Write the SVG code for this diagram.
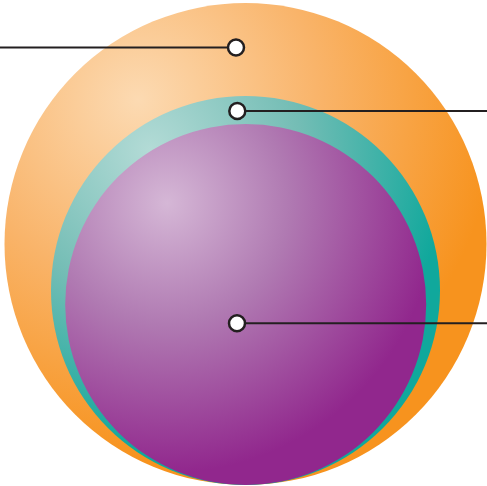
<svg xmlns="http://www.w3.org/2000/svg" width="487" height="486" viewBox="0 0 487 486">
<style>
.lead{stroke:#231f20;stroke-width:2;fill:none}
.dot{fill:#fff;stroke:#231f20;stroke-width:2.5}
</style>
<defs>
<radialGradient id="gO" gradientUnits="userSpaceOnUse" cx="138" cy="100" r="360">
<stop offset="0" stop-color="#fcdab2"/>
<stop offset="0.5" stop-color="#f9b46a"/>
<stop offset="1" stop-color="#f7931e"/>
</radialGradient>
<radialGradient id="gT" gradientUnits="userSpaceOnUse" cx="150" cy="150" r="300">
<stop offset="0" stop-color="#b3dbd6"/>
<stop offset="0.5" stop-color="#74bdb5"/>
<stop offset="1" stop-color="#10a89c"/>
</radialGradient>
<radialGradient id="gP" gradientUnits="userSpaceOnUse" cx="167" cy="203" r="270">
<stop offset="0" stop-color="#d5b7d6"/>
<stop offset="0.45" stop-color="#b07ab2"/>
<stop offset="1" stop-color="#91278d"/>
</radialGradient>
</defs>
<g id="outer"><circle cx="245.5" cy="244" r="241" fill="url(#gO)"/></g>
<g id="middle"><circle cx="245.5" cy="290.5" r="194.5" fill="url(#gT)"/></g>
<g id="inner"><circle cx="245.7" cy="304.5" r="180.5" fill="url(#gP)"/></g>
<g id="connectors">
<line class="lead" x1="0" y1="47.5" x2="228" y2="47.5"/>
<line class="lead" x1="245" y1="111" x2="487" y2="111"/>
<line class="lead" x1="245" y1="323.3" x2="487" y2="323.3"/>
</g>
<g id="marker1"><circle class="dot" cx="236" cy="47.5" r="8"/></g>
<g id="marker2"><circle class="dot" cx="237.3" cy="111" r="8"/></g>
<g id="marker3"><circle class="dot" cx="237" cy="323.3" r="8"/></g>
</svg>
